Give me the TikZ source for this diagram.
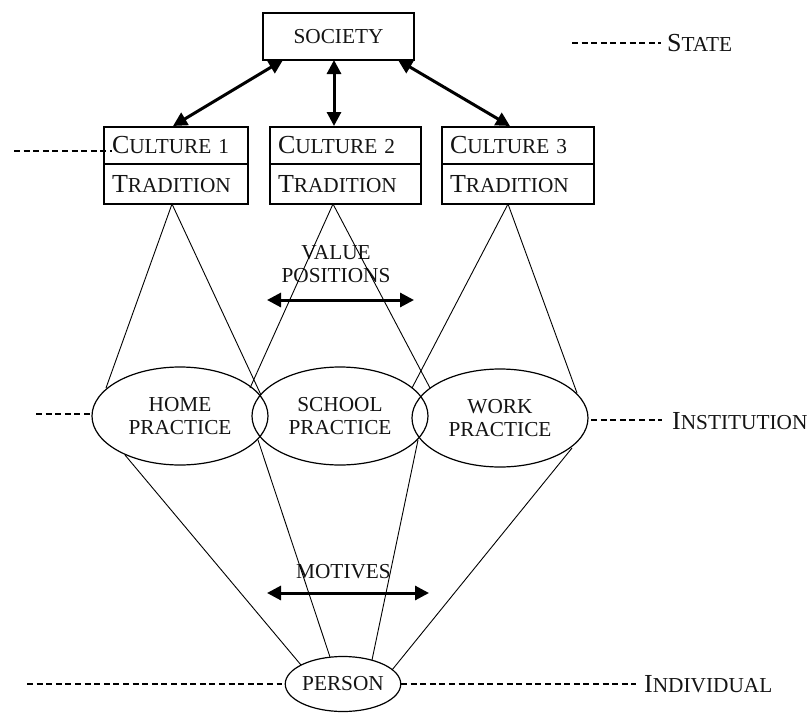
\documentclass[tikz,border=0pt]{standalone}
\usepackage{fontspec}
\setmainfont{Liberation Serif}
\usetikzlibrary{shapes.geometric,arrows.meta}
\newcommand\Bc[1]{{\fontsize{26}{26}\selectfont #1}}
\begin{document}
\begin{tikzpicture}[x=1pt,y=-1pt,
  every node/.style={font=\fontsize{21.3}{23}\selectfont, text=black!92},
  box/.style={draw, line width=1.2pt, inner sep=0pt},
  cbox/.style={box, minimum height=37pt, inner xsep=8pt, align=left},
  tbox/.style={box, minimum height=40pt, inner xsep=8pt, align=left},
  prac/.style={draw, ellipse, line width=1.2pt, minimum width=176pt, minimum height=98pt, inner sep=0pt, align=center},
  thinline/.style={line width=0.9pt},
  dsh/.style={line width=2.6pt, dash pattern=on 6pt off 3.6pt},
  dbl/.style={line width=3pt, {Triangle[length=14pt,width=14pt]}-{Triangle[length=14pt,width=14pt]}},
  lbl/.style={anchor=base west, inner sep=0pt}
]
\useasboundingbox (0,0) rectangle (811,712);

% society
\node[box, minimum width=151pt, minimum height=47pt] (soc) at (338.5,36.5) {SOCIETY};

% cultures
\node[cbox, text width=128pt] (c1) at (176,145.5) {\Bc{C}ULTURE 1};
\node[tbox, text width=128pt] (t1) at (176,184) {\Bc{T}RADITION};
\node[cbox, text width=135pt] (c2) at (345.5,145.5) {\Bc{C}ULTURE 2};
\node[tbox, text width=135pt] (t2) at (345.5,184) {\Bc{T}RADITION};
\node[cbox, text width=136pt] (c3) at (518,145.5) {\Bc{C}ULTURE 3};
\node[tbox, text width=136pt] (t3) at (518,184) {\Bc{T}RADITION};

% practices
\node[prac] (home) at (180,416) {HOME\\PRACTICE};
\node[prac] (school) at (340,416) {SCHOOL\\PRACTICE};
\node[prac] (work) at (500,418) {WORK\\PRACTICE};

% person
\node[draw, ellipse, line width=1.2pt, minimum width=112pt, minimum height=55pt, inner sep=0pt] (per) at (343,684) {PERSON};

% labels
\node[lbl] (state) at (667,51) {\Bc{S}TATE};
\node[lbl] (inst) at (672,429) {\Bc{I}NSTITUTION};
\node[lbl] (indiv) at (644,692) {\Bc{I}NDIVIDUAL};
\node[align=center] (vp) at (336,264) {VALUE\\POSITIONS};
\node (mot) at (343.5,572) {MOTIVES};

% society arrows
\coordinate (s1) at (283,60); \coordinate (e1) at (173,126);
\coordinate (s2) at (334,60); \coordinate (e2) at (334,126);
\coordinate (s3) at (398,60); \coordinate (e3) at (510,126);
\draw[dbl] (s1) -- (e1);
\draw[dbl] (s2) -- (e2);
\draw[dbl] (s3) -- (e3);

% value / motives arrows
\coordinate (vl) at (267,300); \coordinate (vr) at (414,300);
\coordinate (ml) at (267,593); \coordinate (mr) at (429,593);
\draw[dbl] (vl) -- (vr);
\draw[dbl] (ml) -- (mr);

% triangles from traditions
\coordinate (a1) at (172,204);
\coordinate (a2) at (333,204);
\coordinate (a3) at (508,204);
\coordinate (h1) at (106,388);
\coordinate (h2) at (261,395);
\coordinate (h3) at (250,388);
\coordinate (h4) at (430,388);
\coordinate (h5) at (412,388);
\coordinate (h6) at (577,393);
\draw[thinline] (h1) -- (a1) -- (h2);
\draw[thinline] (h3) -- (a2) -- (h4);
\draw[thinline] (h5) -- (a3) -- (h6);

% lines to person
\coordinate (b1) at (125,455); \coordinate (p1) at (301,665);
\coordinate (b2) at (258,440); \coordinate (p2) at (330,657);
\coordinate (b3) at (418,440); \coordinate (p3) at (372,660);
\coordinate (b4) at (572,448); \coordinate (p4) at (392,670);
\draw[thinline] (b1) -- (p1);
\draw[thinline] (b2) -- (p2);
\draw[thinline] (b3) -- (p3);
\draw[thinline] (b4) -- (p4);

% dashed level lines
\coordinate (d1a) at (572,43); \coordinate (d1b) at (661,43);
\draw[dsh] (d1a) -- (d1b);
\coordinate (d2a) at (14,151); \coordinate (d2b) at (112,151);
\draw[dsh] (d2a) -- (d2b);
\coordinate (d3a) at (36,414); \coordinate (d3b) at (92,414);
\draw[dsh] (d3a) -- (d3b);
\coordinate (d4a) at (591,420); \coordinate (d4b) at (662,420);
\draw[dsh] (d4a) -- (d4b);
\coordinate (d5a) at (27,684); \coordinate (d5b) at (282,684);
\draw[dsh] (d5a) -- (d5b);
\coordinate (d6a) at (401,684); \coordinate (d6b) at (636,684);
\draw[dsh] (d6a) -- (d6b);
\end{tikzpicture}
\end{document}
